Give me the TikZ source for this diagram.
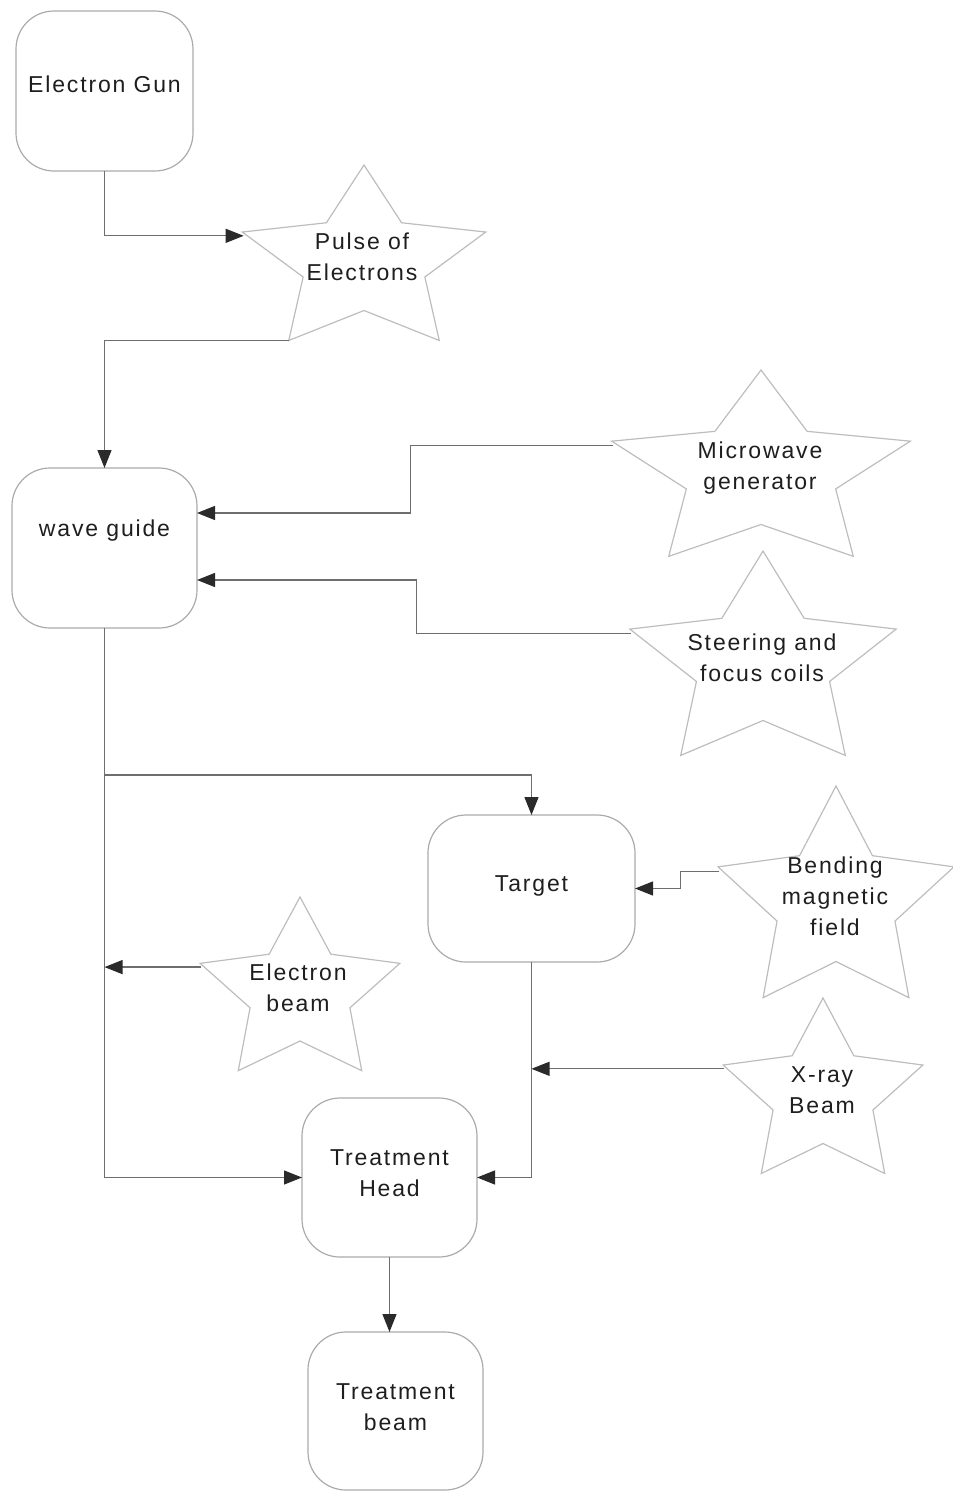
\documentclass[tikz,border=0pt]{standalone}
\usepackage{fontspec}
\setmainfont{Liberation Sans}[LetterSpace=8]
\usetikzlibrary{arrows.meta,calc}
\definecolor{linegray}{HTML}{6E6E6E}
\definecolor{boxgray}{HTML}{ABABAB}
\definecolor{stargray}{HTML}{BDBDBD}
\definecolor{textdark}{HTML}{1E1E1E}
\definecolor{arrowdark}{HTML}{2A2A2A}
\tikzset{
  boxnode/.style={draw=boxgray, line width=1.2pt, rounded corners=38pt, inner sep=0pt, outer sep=0pt,
    align=center, text=textdark, font=\fontsize{23}{31}\selectfont},
  startext/.style={inner sep=0pt, align=center, text=textdark, font=\fontsize{23}{31}\selectfont},
  starline/.style={draw=stargray, line width=1.2pt, line join=miter},
  conn/.style={draw=linegray, line width=1.3pt, -{Triangle[length=18pt,width=14pt,color=arrowdark]}},
}
\newcommand\stargraph[8]{%
  \draw[starline] ({#2},{#3-#5}) \foreach \i in {1,...,9}{ -- ({#2+#4*(1-0.5*mod(\i,2))*cos(90+36*\i)},{#3-#5*(1-0.5*mod(\i,2))*sin(90+36*\i)}) } -- cycle;
  \coordinate (#1-left) at ({#2-0.94*#4},{#3-0.27*#5});
  \coordinate (#1-bl) at ({#2-0.588*#4},{#3+0.809*#5});
  \node[startext] (#1) at (#6,#7) {#8};
}
\begin{document}
\begin{tikzpicture}[x=1pt,y=-1pt]
\useasboundingbox (0,0) rectangle (953,1492);
% boxes
\node[boxnode, minimum width=177pt, minimum height=160pt, text depth=14pt] (gun) at (104.5,91) {Electron Gun};
\node[boxnode, minimum width=185pt, minimum height=160pt, text depth=40pt] (wg) at (104.5,548) {wave guide};
\node[boxnode, minimum width=207pt, minimum height=147pt, text depth=10pt] (tg) at (531.5,888.5) {Target};
\node[boxnode, minimum width=175pt, minimum height=159pt, text depth=8pt] (th) at (389.5,1177.5) {Treatment\\Head};
\node[boxnode, minimum width=175pt, minimum height=158pt, text depth=8pt] (tb) at (395.5,1411) {Treatment\\beam};
% stars
\stargraph{ps}{364}{262}{128}{97}{362}{257}{Pulse of\\Electrons}
\stargraph{mw}{761}{473}{157}{103}{760}{468}{Microwave\\generator}
\stargraph{sf}{763}{664}{140}{113}{762}{658}{Steering and\\focus coils}
\stargraph{bm}{836}{903}{124}{117}{835}{896}{Bending\\magnetic\\field}
\stargraph{eb}{300}{993}{105}{96}{298}{988}{Electron\\beam}
\stargraph{xr}{823}{1095}{105}{97}{822}{1090}{X-ray\\Beam}
% connectors
\draw[conn] (gun.south) |- (ps-left);
\draw[conn] (ps-bl) -| (wg.north);
\draw[conn] (mw-left) -- ++(-203,0) |- ([yshift=35pt]wg.east);
\draw[conn] (sf-left) -- ++(-215,0) |- ([yshift=-32pt]wg.east);
\draw[conn] (wg.south) |- (th.west);
\coordinate (br) at (wg.south |- 0,775);
\draw[conn] (br) -| (tg.north);
\draw[conn] (bm-left) -- ++(-39,0) |- (tg.east);
\draw[conn] (tg.south) |- (th.east);
\draw[conn] (xr-left) -- (tg.south |- xr-left);
\draw[conn] (eb-left) -- (wg.south |- eb-left);
\draw[conn] (th.south) -- (th.south |- tb.north);
\end{tikzpicture}
\end{document}
